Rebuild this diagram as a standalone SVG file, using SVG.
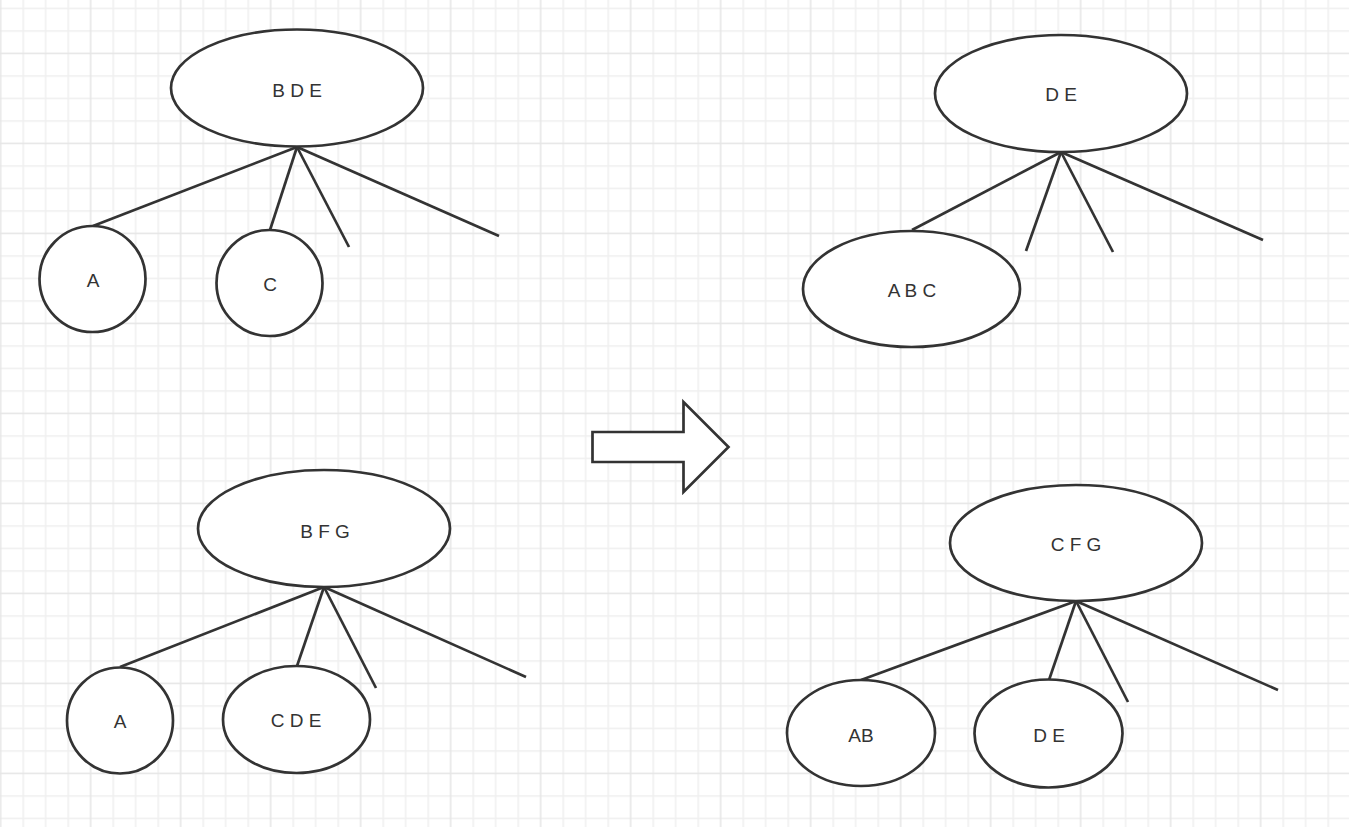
<svg xmlns="http://www.w3.org/2000/svg" width="1349" height="827" viewBox="0 0 1349 827">
<style>
.n{fill:#fff;stroke:#333;stroke-width:2.7}
.t{font-family:"Liberation Sans",Arial,sans-serif;font-size:19px;fill:#333;text-anchor:middle}
.c{stroke:#333;stroke-width:2.7;fill:none;stroke-linecap:butt}
.gm{stroke:#efefef;stroke-width:1.5}
.gM{stroke:#e5e5e5;stroke-width:1.5}
</style>
<defs>
<pattern id="grid" patternUnits="userSpaceOnUse" x="-10.55" y="-2.75" width="90" height="90">
<line class="gm" x1="33.75" y1="0" x2="33.75" y2="90"/>
<line class="gm" x1="56.25" y1="0" x2="56.25" y2="90"/>
<line class="gm" x1="78.75" y1="0" x2="78.75" y2="90"/>
<line class="gm" x1="0" y1="11.25" x2="90" y2="11.25"/>
<line class="gm" x1="0" y1="33.75" x2="90" y2="33.75"/>
<line class="gm" x1="0" y1="78.75" x2="90" y2="78.75"/>
<line class="gM" x1="11.25" y1="0" x2="11.25" y2="90"/>
<line class="gM" x1="0" y1="56.25" x2="90" y2="56.25"/>
</pattern>
</defs>
<rect x="0" y="0" width="1349" height="827" fill="#fff"/>
<rect x="0" y="0" width="1349" height="827" fill="url(#grid)"/>
<g id="connectors">
<line class="c" x1="297" y1="147" x2="93" y2="226"/>
<line class="c" x1="297" y1="147" x2="270" y2="230"/>
<line class="c" x1="297" y1="147" x2="349" y2="247"/>
<line class="c" x1="297" y1="147" x2="499" y2="236"/>
<line class="c" x1="1061" y1="152" x2="912" y2="230"/>
<line class="c" x1="1061" y1="152" x2="1026" y2="251"/>
<line class="c" x1="1061" y1="152" x2="1113" y2="252"/>
<line class="c" x1="1061" y1="152" x2="1263" y2="240"/>
<line class="c" x1="324" y1="587" x2="120" y2="667"/>
<line class="c" x1="324" y1="587" x2="297" y2="666"/>
<line class="c" x1="324" y1="587" x2="376" y2="688"/>
<line class="c" x1="324" y1="587" x2="526" y2="677"/>
<line class="c" x1="1076" y1="601" x2="861" y2="680"/>
<line class="c" x1="1076" y1="601" x2="1049" y2="680"/>
<line class="c" x1="1076" y1="601" x2="1128" y2="702"/>
<line class="c" x1="1076" y1="601" x2="1278" y2="690"/>
</g>
<g id="n-bde"><ellipse class="n" cx="297" cy="88" rx="126" ry="58.5"/><text class="t" x="297" y="97">B D E</text></g>
<g id="n-a1"><ellipse class="n" cx="92.5" cy="279" rx="53" ry="53"/><text class="t" x="93" y="286.5">A</text></g>
<g id="n-c"><ellipse class="n" cx="269.5" cy="283" rx="53" ry="53"/><text class="t" x="270" y="291">C</text></g>
<g id="n-de1"><ellipse class="n" cx="1061" cy="93.5" rx="126" ry="58.5"/><text class="t" x="1061" y="101">D E</text></g>
<g id="n-abc"><ellipse class="n" cx="911.5" cy="289" rx="108.5" ry="58"/><text class="t" x="912" y="297">A B C</text></g>
<g id="n-bfg"><ellipse class="n" cx="324" cy="528.5" rx="126" ry="58.5"/><text class="t" x="325" y="538">B F G</text></g>
<g id="n-a2"><ellipse class="n" cx="120" cy="720.5" rx="53" ry="53"/><text class="t" x="120" y="727.5">A</text></g>
<g id="n-cde"><ellipse class="n" cx="296.5" cy="719.5" rx="73.5" ry="53.5"/><text class="t" x="296" y="727">C D E</text></g>
<g id="n-cfg"><ellipse class="n" cx="1076" cy="543" rx="126" ry="58"/><text class="t" x="1076" y="551">C F G</text></g>
<g id="n-ab"><ellipse class="n" cx="861" cy="733" rx="74" ry="53"/><text class="t" x="861" y="742">AB</text></g>
<g id="n-de2"><ellipse class="n" cx="1048.5" cy="733.5" rx="74" ry="54"/><text class="t" x="1049" y="742">D E</text></g>
<g id="arrow"><polygon class="n" points="592.5,432 683.5,432 683.5,402 728.5,447 683.5,492 683.5,462 592.5,462"/></g>
</svg>
